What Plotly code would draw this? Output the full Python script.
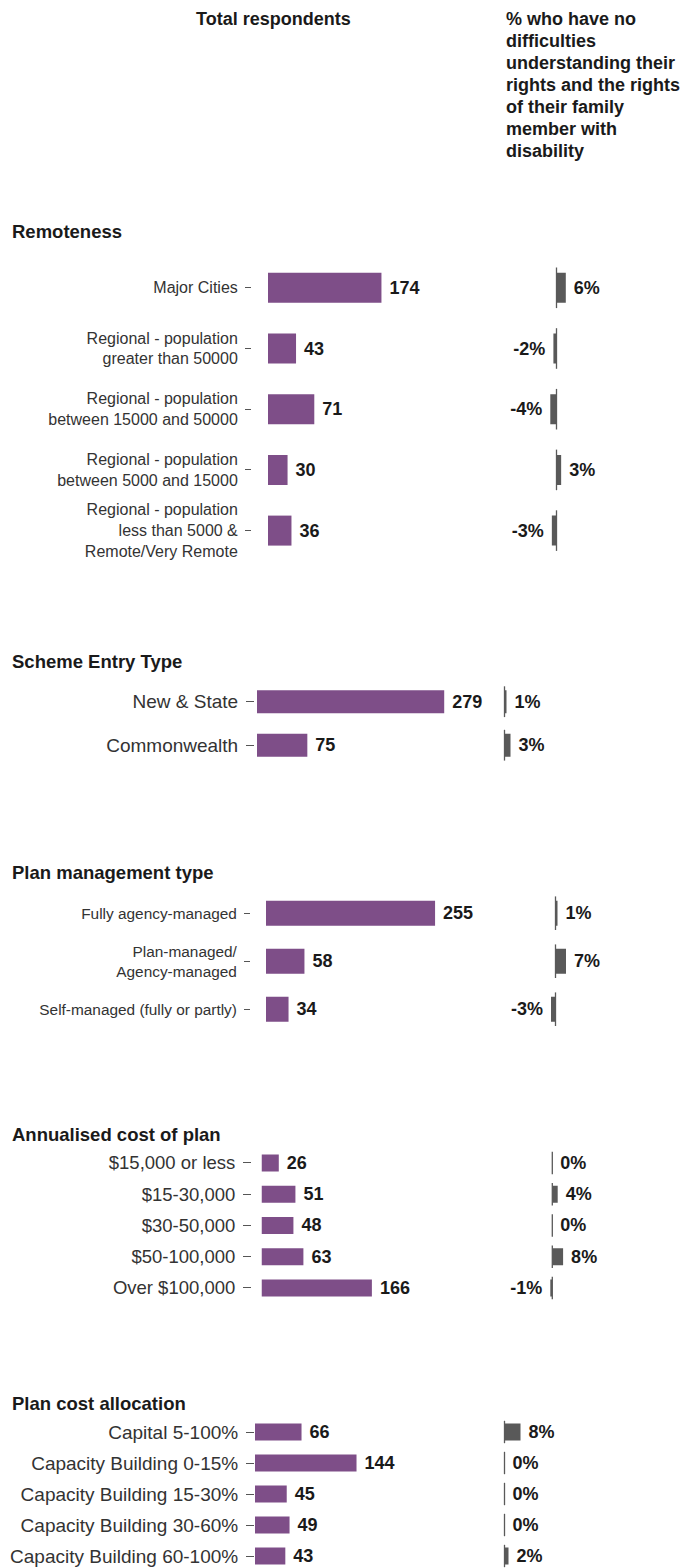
import plotly.graph_objects as go

PAGE_W, PAGE_H = 689, 1568
OFF = 8                       # browser default body margin
W, H = PAGE_W - OFF, PAGE_H - OFF
PURPLE = "#7e4e88"
GREY = "#595959"
FONT = "Liberation Sans, Arial, sans-serif"
TXT = "#1a1a1a"
LBL = "#333333"

# ---------------- data ----------------
header_left = "Total respondents"
header_right = ["% who have no", "difficulties", "understanding their", "rights and the rights",
                "of their family", "member with", "disability"]

remote_title = "Remoteness"
remote_cats = ["Major Cities",
               "Regional - population<br>greater than 50000",
               "Regional - population<br>between 15000 and 50000",
               "Regional - population<br>between 5000 and 15000",
               "Regional - population<br>less than 5000 &<br>Remote/Very Remote"]
remote_total = [174, 43, 71, 30, 36]
remote_pct = [6, -2, -4, 3, -3]

entry_title = "Scheme Entry Type"
entry_cats = ["New & State", "Commonwealth"]
entry_total = [279, 75]
entry_pct = [1, 3]

mgmt_title = "Plan management type"
mgmt_cats = ["Fully agency-managed", "Plan-managed/<br>Agency-managed", "Self-managed (fully or partly)"]
mgmt_total = [255, 58, 34]
mgmt_pct = [1, 7, -3]

cost_title = "Annualised cost of plan"
cost_cats = ["$15,000 or less", "$15-30,000", "$30-50,000", "$50-100,000", "Over $100,000"]
cost_total = [26, 51, 48, 63, 166]
cost_pct = [0, 4, 0, 8, -1]

alloc_title = "Plan cost allocation"
alloc_cats = ["Capital 5-100%", "Capacity Building 0-15%", "Capacity Building 15-30%",
              "Capacity Building 30-60%", "Capacity Building 60-100%"]
alloc_total = [66, 144, 45, 49, 43]
alloc_pct = [8, 0, 0, 0, 2]

# ---------------- layout specs (page pixels) ----------------
sections = [
    dict(title=remote_title, cats=remote_cats, total=remote_total, pct=remote_pct,
         title_y=231.5, c0=287.8, step=60.7, barh=30, lx0=268, lscale=0.652,
         tickx=251, ticklen=6, rzero=556.5, rscale=1.55, fs=16),
    dict(title=entry_title, cats=entry_cats, total=entry_total, pct=entry_pct,
         title_y=661.5, c0=701.7, step=43.5, barh=23, lx0=257, lscale=0.671,
         tickx=254, ticklen=8, rzero=504.5, rscale=2.0, fs=19),
    dict(title=mgmt_title, cats=mgmt_cats, total=mgmt_total, pct=mgmt_pct,
         title_y=872, c0=913.2, step=48, barh=25, lx0=266, lscale=0.663,
         tickx=250, ticklen=6, rzero=555.5, rscale=1.5, fs=15.4),
    dict(title=cost_title, cats=cost_cats, total=cost_total, pct=cost_pct,
         title_y=1134.5, c0=1163, step=31.25, barh=17, lx0=261.5, lscale=0.665,
         tickx=251, ticklen=8, rzero=552.3, rscale=1.35, fs=18.5),
    dict(title=alloc_title, cats=alloc_cats, total=alloc_total, pct=alloc_pct,
         title_y=1403, c0=1432, step=31, barh=17, lx0=255, lscale=0.705,
         tickx=254, ticklen=8, rzero=504.5, rscale=2.0, fs=19),
]

fig = go.Figure()
layout = dict(
    width=W, height=H, margin=dict(l=0, r=0, t=0, b=0, pad=0),
    paper_bgcolor="white", plot_bgcolor="rgba(0,0,0,0)", showlegend=False,
    font=dict(family=FONT, color=TXT),
)
annotations = []

def fx(px):
    return (px - OFF) / W

def fy(px):
    return 1 - (px - OFF) / H

for i, s in enumerate(sections):
    n = len(s["cats"])
    top = s["c0"] - s["step"] / 2
    bottom = min(s["c0"] + (n - 0.5) * s["step"], PAGE_H)
    ydom = [fy(bottom), fy(top)]
    yrange = [(bottom - s["c0"]) / s["step"], (top - s["c0"]) / s["step"]]
    li, ri = 2 * i + 1, 2 * i + 2
    lx, ly = ("x" if li == 1 else f"x{li}"), ("y" if li == 1 else f"y{li}")
    rx, ry = f"x{ri}", f"y{ri}"
    lkey_x = "xaxis" if li == 1 else f"xaxis{li}"
    lkey_y = "yaxis" if li == 1 else f"yaxis{li}"
    rkey_x, rkey_y = f"xaxis{ri}", f"yaxis{ri}"

    lwidth = 330
    layout[lkey_x] = dict(domain=[fx(s["lx0"]), fx(s["lx0"] + lwidth)],
                          range=[0, lwidth / s["lscale"]], visible=False, anchor=ly)
    layout[lkey_y] = dict(domain=ydom, type="category", range=yrange,
                          anchor="free", position=fx(s["tickx"]),
                          ticks="outside", ticklen=s["ticklen"], tickwidth=1.2, tickcolor="#555555",
                          ticklabelstandoff=4,
                          showline=False, showgrid=False, zeroline=False,
                          tickfont=dict(size=s["fs"], color=LBL, family=FONT))
    rhalf = 70
    layout[rkey_x] = dict(domain=[fx(s["rzero"] - rhalf), fx(s["rzero"] + rhalf)],
                          range=[-rhalf / s["rscale"], rhalf / s["rscale"]], visible=False, anchor=ry)
    layout[rkey_y] = dict(domain=ydom, type="category", range=yrange,
                          anchor=rx, visible=False)

    wfrac = s["barh"] / s["step"]
    fig.add_trace(go.Bar(
        x=s["total"], y=s["cats"], orientation="h", xaxis=lx, yaxis=ly,
        marker=dict(color=PURPLE, line=dict(width=0)), width=wfrac,
        text=[f"\u00a0<b>{v}</b>" for v in s["total"]], textposition="outside",
        constraintext="none", cliponaxis=False,
        textfont=dict(size=18, color=TXT, family=FONT), hoverinfo="skip"))
    fig.add_trace(go.Bar(
        x=s["pct"], y=s["cats"], orientation="h", xaxis=rx, yaxis=ry,
        marker=dict(color=GREY, line=dict(width=0)), width=wfrac,
        text=[(f"\u00a0<b>{v}%</b>" if v >= 0 else f"<b>{v}%</b>\u00a0") for v in s["pct"]],
        textposition="outside", constraintext="none", cliponaxis=False,
        textfont=dict(size=18, color=TXT, family=FONT), hoverinfo="skip"))
    fig.add_trace(go.Scatter(
        x=[0] * n, y=s["cats"], mode="markers", xaxis=rx, yaxis=ry,
        marker=dict(symbol="line-ns", size=s["barh"] - 1, line=dict(width=1.3, color=GREY)),
        hoverinfo="skip", cliponaxis=False))

    annotations.append(dict(text=f"<b>{s['title']}</b>", x=fx(10), y=fy(s["title_y"]),
                            xref="paper", yref="paper", xanchor="left", yanchor="middle",
                            showarrow=False, font=dict(size=18.5, color=TXT, family=FONT)))

annotations.append(dict(text=f"<b>{header_left}</b>", x=fx(273), y=fy(19), xref="paper", yref="paper",
                        xanchor="center", yanchor="middle", showarrow=False,
                        font=dict(size=18, color=TXT, family=FONT)))
for k, line in enumerate(header_right):
    annotations.append(dict(text=f"<b>{line}</b>", x=fx(504), y=fy(19 + 22 * k), xref="paper", yref="paper",
                            xanchor="left", yanchor="middle", showarrow=False,
                            font=dict(size=18, color=TXT, family=FONT)))

layout["annotations"] = annotations
fig.update_layout(**layout)
fig.write_html("out.html")
